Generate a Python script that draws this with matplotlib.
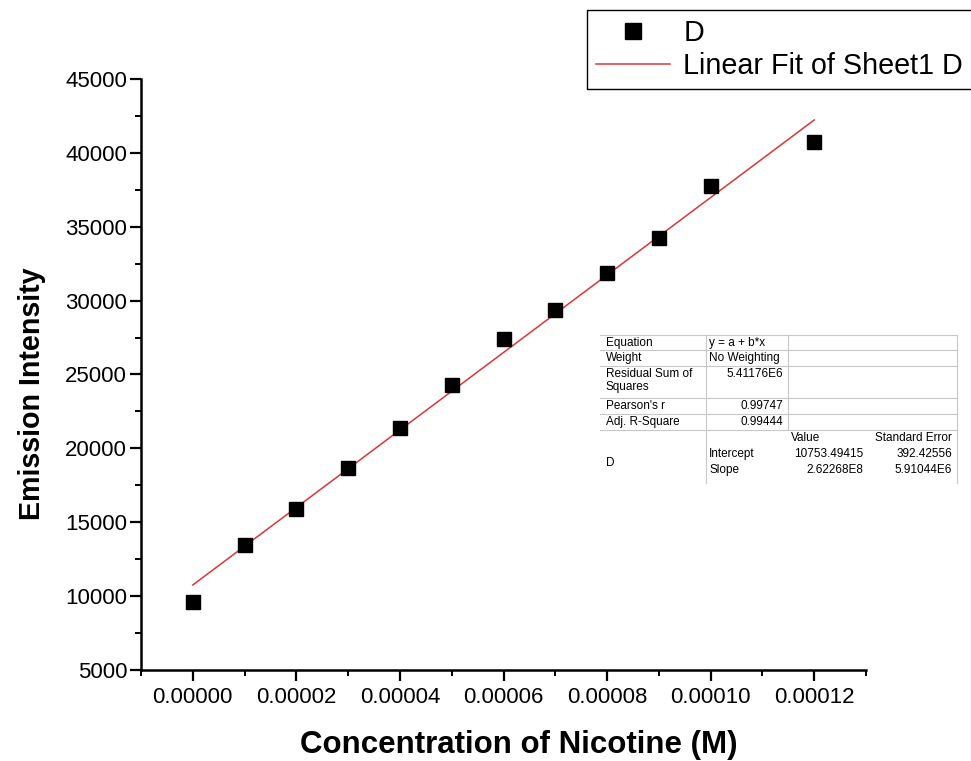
import numpy as np
import matplotlib.pyplot as plt
from matplotlib.lines import Line2D

plt.rcParams['font.family'] = ['Liberation Sans', 'DejaVu Sans']

# Nicotine concentration (M) and emission intensity
conc = [0.0, 0.00001, 0.00002, 0.00003, 0.00004, 0.00005, 0.00006,
        0.00007, 0.00008, 0.00009, 0.00010, 0.00012]
intensity = [9600, 13480, 15900, 18700, 21350, 24270, 27420,
             29380, 31850, 34240, 37750, 40720]

# Linear fit results
intercept = 10753.49415
slope = 2.62268E8

table_rows = [
    ("Equation", "y = a + b*x"),
    ("Weight", "No Weighting"),
    ("Residual Sum of\nSquares", "5.41176E6"),
    ("Pearson's r", "0.99747"),
    ("Adj. R-Square", "0.99444"),
]
param_names = ["Intercept", "Slope"]
param_values = ["10753.49415", "2.62268E8"]
param_errors = ["392.42556", "5.91044E6"]

W, H = 971, 761
fig = plt.figure(figsize=(W / 100, H / 100), dpi=100)
ax = fig.add_axes([141 / W, 1 - 670 / H, 725 / W, 591 / H])

fit_color = '#dc3535'
ax.plot(conc, intensity, 's', color='black', markersize=10, label='D', zorder=3)
xf = np.array([conc[0], conc[-1]])
ax.plot(xf, intercept + slope * xf, '-', color=fit_color, linewidth=1.1,
        label='Linear Fit of Sheet1 D')

ax.set_xlim(-0.0000098, 0.000130)
ax.set_ylim(5000, 45000)
ax.set_xticks(np.arange(0, 0.000121, 0.00002))
ax.set_xticklabels(['%.5f' % v for v in np.arange(0, 0.000121, 0.00002)])
ax.set_xticks(np.arange(-0.00001, 0.000131, 0.00001), minor=True)
ax.set_yticks(np.arange(5000, 45001, 5000))
ax.set_yticks(np.arange(5000, 45001, 2500), minor=True)

for side in ['top', 'right']:
    ax.spines[side].set_visible(False)
for side in ['left', 'bottom']:
    ax.spines[side].set_linewidth(1.8)
ax.tick_params(which='major', direction='out', length=8, width=1.6,
               labelsize=16)
ax.tick_params(axis='x', which='major', pad=4)
ax.tick_params(axis='y', which='major', pad=2)
ax.tick_params(which='minor', direction='out', length=4.5, width=1.4)

ax.set_xlabel('Concentration of Nicotine (M)', fontsize=22.5, fontweight='bold',
              labelpad=16)
ax.set_ylabel('Emission Intensity', fontsize=20.6, fontweight='bold', labelpad=14)
ax.xaxis.label.set_x(0.521)
ax.yaxis.label.set_y(0.467)

handles = [Line2D([], [], marker='s', color='black', linestyle='none', markersize=11),
           Line2D([], [], color=fit_color, linewidth=1.1)]
leg = fig.legend(handles, ['D', 'Linear Fit of Sheet1 D'], loc='upper left',
                 bbox_to_anchor=(587 / W, 1 - 10 / H, 420 / W, 0),
                 bbox_transform=fig.transFigure, mode='expand',
                 prop={'size': 20.7}, frameon=True, fancybox=False,
                 edgecolor='black', framealpha=1, borderpad=0.3,
                 handlelength=2.6, handletextpad=0.45, labelspacing=0.2,
                 borderaxespad=0)
leg.get_frame().set_linewidth(1.0)

# fit summary table, drawn in pixel coordinates
def fx(px):
    return px / W

def fy(py):
    return 1 - py / H

grid = '#c8c8c8'
tfs = 8.5
left, c1, c2, c3, right = 600, 706, 788, 868, 957
hlines = [335, 350, 366, 398, 414, 430]
for yy in hlines:
    fig.add_artist(Line2D([fx(left), fx(right)], [fy(yy), fy(yy)], color=grid, lw=0.8))
fig.add_artist(Line2D([fx(c1), fx(c1)], [fy(335), fy(483)], color=grid, lw=0.8))
fig.add_artist(Line2D([fx(c2), fx(c2)], [fy(335), fy(430)], color=grid, lw=0.8))
fig.add_artist(Line2D([fx(right), fx(right)], [fy(335), fy(483)], color=grid, lw=0.8))

row_tops = [335, 350, 366, 398, 414]
for (name, val), top in zip(table_rows, row_tops):
    fig.text(fx(left + 6), fy(top + 2), name, fontsize=tfs, va='top', ha='left',
             linespacing=1.1)
    if name == "Equation" or name == "Weight":
        fig.text(fx(c1 + 3), fy(top + 2), val, fontsize=tfs, va='top', ha='left')
    else:
        fig.text(fx(c2 - 5), fy(top + 2), val, fontsize=tfs, va='top', ha='right')

fig.text(fx(c2 + 3), fy(432), "Value", fontsize=tfs, va='top', ha='left')
fig.text(fx(right - 5), fy(432), "Standard Error", fontsize=tfs, va='top', ha='right')
fig.text(fx(left + 6), fy(463), "D", fontsize=tfs, va='center', ha='left')
for i, (n, v, e) in enumerate(zip(param_names, param_values, param_errors)):
    yy = 448 + i * 16
    fig.text(fx(c1 + 3), fy(yy), n, fontsize=tfs, va='top', ha='left')
    fig.text(fx(c3 - 5), fy(yy), v, fontsize=tfs, va='top', ha='right')
    fig.text(fx(right - 5), fy(yy), e, fontsize=tfs, va='top', ha='right')

fig.savefig('out.png', dpi=100)
